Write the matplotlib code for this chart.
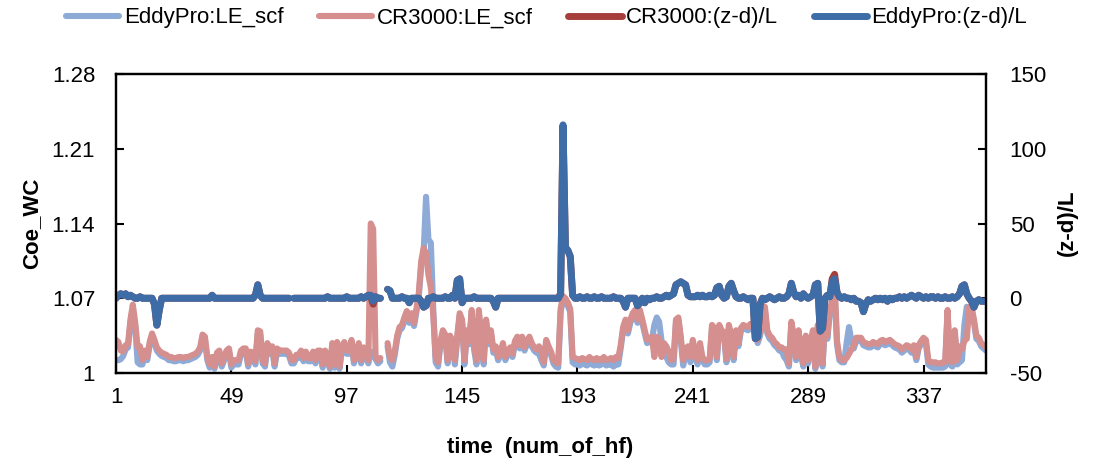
import numpy as np
import matplotlib
matplotlib.use("Agg")
import matplotlib.pyplot as plt
from matplotlib.ticker import FixedLocator

nan = np.nan

# LE_scf correction factors (left axis)
le_scf_eddypro = [
    1.012, 1.012, 1.013, 1.016, 1.022, 1.024, 1.046, 1.060, 1.043, 1.010,
    1.008, 1.008, 1.017, 1.012, 1.026, 1.034, 1.028, 1.021, 1.018, 1.016,
    1.015, 1.014, 1.012, 1.012, 1.011, 1.011, 1.012, 1.012, 1.011, 1.012,
    1.012, 1.013, 1.014, 1.015, 1.017, 1.021, 1.033, 1.031, 1.012, 1.005,
    1.012, 1.004, 1.016, 1.018, 1.006, 1.012, 1.018, 1.020, 1.005, 1.009,
    1.008, 1.008, 1.018, 1.020, 1.020, 1.006, 1.017, 1.016, 1.008, 1.037,
    1.036, 1.009, 1.006, 1.025, 1.018, 1.022, 1.006, 1.020, 1.018, 1.018,
    1.018, 1.018, 1.016, 1.009, 1.009, 1.014, 1.014, 1.018, 1.011, 1.017,
    1.011, 1.011, 1.017, 1.009, 1.018, 1.018, 1.005, 1.018, 1.011, 1.004,
    1.025, 1.005, 1.026, 1.004, 1.022, 1.026, 1.018, 1.018, 1.028, 1.009,
    1.017, 1.025, 1.009, 1.021, 1.016, 1.009, 1.020, 1.018, 1.013, 1.009,
    1.011, nan, nan, 1.025, 1.010, 1.006, 1.017, 1.032, 1.040, 1.042,
    1.049, 1.055, 1.047, 1.053, 1.044, 1.057, 1.072, 1.100, 1.112, 1.165,
    1.125, 1.122, 1.060, 1.010, 1.006, 1.027, 1.037, 1.033, 1.009, 1.032,
    1.027, 1.008, 1.032, 1.053, 1.047, 1.008, 1.037, 1.027, 1.056, 1.022,
    1.008, 1.056, 1.027, 1.008, 1.047, 1.027, 1.037, 1.019, 1.022, 1.012,
    1.017, 1.025, 1.012, 1.017, 1.021, 1.015, 1.027, 1.031, 1.023, 1.031,
    1.021, 1.027, 1.031, 1.025, 1.021, 1.019, 1.018, 1.012, 1.007, 1.028,
    1.022, 1.017, 1.009, 1.006, 1.005, 1.057, 1.069, 1.067, 1.063, 1.057,
    1.010, 1.008, 1.008, 1.007, 1.009, 1.008, 1.007, 1.010, 1.008, 1.007,
    1.009, 1.007, 1.008, 1.010, 1.007, 1.008, 1.008, 1.006, 1.008, 1.008,
    1.023, 1.040, 1.047, 1.037, 1.047, 1.053, 1.056, 1.047, 1.056, 1.047,
    1.037, 1.028, 1.029, 1.031, 1.045, 1.052, 1.048, 1.030, 1.025, 1.015,
    1.010, 1.008, 1.008, 1.047, 1.049, 1.031, 1.007, 1.019, 1.022, 1.010,
    1.028, 1.015, 1.008, 1.025, 1.012, 1.008, 1.008, 1.010, 1.042, 1.039,
    1.012, 1.042, 1.037, 1.035, 1.010, 1.042, 1.033, 1.012, 1.037, 1.025,
    1.039, 1.042, 1.041, 1.040, 1.043, 1.041, 1.037, 1.028, 1.035, 1.047,
    1.059, 1.037, 1.032, 1.030, 1.026, 1.024, 1.021, 1.021, 1.015, 1.012,
    1.006, 1.045, 1.032, 1.012, 1.037, 1.017, 1.006, 1.032, 1.009, 1.027,
    1.037, 1.004, 1.042, 1.027, 1.006, 1.047, 1.032, 1.056, 1.065, 1.075,
    1.027, 1.012, 1.010, 1.010, 1.028, 1.043, 1.030, 1.023, 1.030, 1.030,
    1.030, 1.026, 1.025, 1.024, 1.024, 1.026, 1.025, 1.024, 1.027, 1.028,
    1.026, 1.027, 1.028, 1.026, 1.024, 1.023, 1.022, 1.019, 1.021, 1.023,
    1.022, 1.019, 1.023, 1.012, 1.023, 1.027, 1.030, 1.028, 1.008, 1.006,
    1.005, 1.005, 1.005, 1.005, 1.005, 1.006, 1.056, 1.008, 1.006, 1.037,
    1.008, 1.010, 1.012, 1.045, 1.062, 1.059, 1.059, 1.047, 1.032, 1.030,
    1.025, 1.023, 1.021,
]

le_scf_cr3000 = [
    1.031, 1.029, 1.021, 1.020, 1.026, 1.027, 1.050, 1.064, 1.047, 1.024,
    1.025, 1.012, 1.021, 1.015, 1.029, 1.037, 1.031, 1.024, 1.021, 1.019,
    1.018, 1.017, 1.015, 1.015, 1.014, 1.014, 1.015, 1.015, 1.014, 1.015,
    1.015, 1.016, 1.017, 1.018, 1.020, 1.024, 1.036, 1.034, 1.015, 1.008,
    1.015, 1.006, 1.019, 1.021, 1.009, 1.015, 1.021, 1.023, 1.008, 1.012,
    1.012, 1.012, 1.021, 1.023, 1.023, 1.009, 1.020, 1.019, 1.011, 1.040,
    1.039, 1.012, 1.009, 1.028, 1.021, 1.025, 1.009, 1.023, 1.021, 1.021,
    1.021, 1.021, 1.019, 1.012, 1.012, 1.017, 1.017, 1.021, 1.014, 1.020,
    1.014, 1.014, 1.020, 1.012, 1.021, 1.021, 1.008, 1.021, 1.014, 1.006,
    1.028, 1.008, 1.029, 1.006, 1.025, 1.029, 1.021, 1.021, 1.031, 1.012,
    1.020, 1.028, 1.012, 1.024, 1.019, 1.012, 1.140, 1.135, 1.016, 1.012,
    1.014, nan, nan, 1.028, 1.015, 1.012, 1.020, 1.035, 1.043, 1.045,
    1.052, 1.058, 1.050, 1.056, 1.047, 1.060, 1.075, 1.105, 1.117, 1.112,
    1.092, 1.080, 1.055, 1.015, 1.010, 1.030, 1.040, 1.036, 1.012, 1.035,
    1.030, 1.012, 1.035, 1.056, 1.050, 1.012, 1.040, 1.030, 1.059, 1.025,
    1.012, 1.059, 1.030, 1.012, 1.050, 1.030, 1.040, 1.022, 1.025, 1.015,
    1.020, 1.028, 1.015, 1.020, 1.024, 1.018, 1.030, 1.034, 1.026, 1.034,
    1.024, 1.030, 1.034, 1.028, 1.024, 1.022, 1.025, 1.020, 1.010, 1.031,
    1.025, 1.020, 1.012, 1.010, 1.009, 1.060, 1.072, 1.070, 1.066, 1.060,
    1.015, 1.014, 1.013, 1.012, 1.014, 1.013, 1.012, 1.015, 1.013, 1.012,
    1.014, 1.012, 1.013, 1.015, 1.012, 1.013, 1.014, 1.012, 1.015, 1.014,
    1.026, 1.043, 1.050, 1.040, 1.050, 1.056, 1.059, 1.050, 1.059, 1.050,
    1.040, 1.031, 1.032, 1.034, 1.015, 1.034, 1.032, 1.015, 1.028, 1.025,
    1.020, 1.012, 1.013, 1.050, 1.052, 1.034, 1.012, 1.022, 1.025, 1.015,
    1.031, 1.018, 1.012, 1.028, 1.015, 1.012, 1.012, 1.013, 1.045, 1.042,
    1.015, 1.045, 1.040, 1.038, 1.013, 1.045, 1.036, 1.015, 1.040, 1.028,
    1.042, 1.045, 1.044, 1.043, 1.046, 1.044, 1.040, 1.031, 1.038, 1.050,
    1.062, 1.040, 1.035, 1.033, 1.029, 1.027, 1.024, 1.024, 1.022, 1.022,
    1.009, 1.048, 1.035, 1.015, 1.040, 1.020, 1.009, 1.035, 1.012, 1.030,
    1.040, 1.006, 1.045, 1.030, 1.009, 1.050, 1.035, 1.059, 1.068, 1.085,
    1.030, 1.015, 1.012, 1.012, 1.014, 1.018, 1.022, 1.026, 1.033, 1.033,
    1.033, 1.029, 1.028, 1.027, 1.027, 1.029, 1.028, 1.027, 1.030, 1.031,
    1.029, 1.030, 1.031, 1.029, 1.027, 1.026, 1.025, 1.022, 1.024, 1.026,
    1.025, 1.022, 1.026, 1.015, 1.026, 1.030, 1.033, 1.031, 1.012, 1.010,
    1.010, 1.010, 1.009, 1.009, 1.010, 1.010, 1.059, 1.012, 1.010, 1.040,
    1.012, 1.025, 1.022, 1.030, 1.032, 1.062, 1.062, 1.050, 1.035, 1.033,
    1.028, 1.026, 1.024,
]

# stability parameter (z-d)/L (right axis)
zl_cr3000 = [
    0, 2, 3, 2, 3, 1, 2, 1, 0, 0,
    1, 0, 0, 0, 0, 0, -4, -18, -8, 0,
    0, 0, 0, 0, 0, 0, 0, 0, 0, 0,
    0, 0, 0, 0, 0, 0, 0, 0, 0, 0,
    2, 0, 0, 0, 0, 0, 0, 0, 0, 0,
    0, 0, 0, 0, 0, 0, 0, 0, 2, 9,
    2, 0, 0, 0, 0, 0, 0, 0, 0, 0,
    0, 0, 0, nan, 0, 0, 0, 0, 0, 0,
    0, 0, 0, 0, 0, 0, 0, 0, 1, 0,
    0, 0, 0, 0, 0, 0, 1, 0, 0, 0,
    0, 0, 1, 0, 1, 2, 1, -4, 1, 0,
    0, nan, nan, 6, 5, 0, 0, 0, 0, 1,
    0, 0, -3, 0, 0, 0, 0, -2, -6, -5,
    0, 0, 1, 0, 0, 0, 0, 1, 0, 0,
    2, 0, 12, 13, -3, 0, 0, 0, 0, 1,
    0, 0, 0, 0, 0, 0, 0, -2, -6, 0,
    0, 0, 0, 0, 0, 0, 0, 0, 0, 0,
    0, 0, 0, 0, 0, 0, 0, 0, 0, 0,
    0, 0, 0, 0, 0, 3, 115, 34, 32, 28,
    2, 0, 0, 1, 0, 0, 1, 0, 0, 1,
    0, 0, 1, 0, 0, 0, 0, 1, 0, 0,
    0, -2, -6, 0, 0, 0, 0, -5, -3, 0,
    -3, 0, -1, 0, 0, 1, 0, 0, 1, 2,
    1, 2, 3, 9, 10, 11, 10, 9, 2, 1,
    1, 1, 2, 1, 2, 1, 1, 2, 1, 2,
    7, 8, 2, 0, 1, 8, 10, 5, 1, 0,
    0, 1, 0, -1, 0, 0, -27, -26, -4, 0,
    -1, 0, 1, 0, -1, 0, 1, 0, 0, 1,
    3, 10, 4, 1, 2, 0, 3, 1, 0, 1,
    2, 9, 10, -22, -20, 0, 2, 1, 13, 16,
    4, 1, 0, 1, 0, 0, -1, 0, -2, -2,
    -3, -9, -4, -1, -2, -1, 0, -1, 0, -1,
    0, -2, 0, -1, 0, 0, 1, 0, 1, 0,
    1, 2, 1, 0, 2, 1, 0, 1, 0, 1,
    1, 0, 1, 0, 0, 1, 0, 0, 1, 0,
    1, 3, 8, 9, 3, 0, -2, -6, -2, -1,
    -2, -2, -2,
]

zl_eddypro = [
    0, 2, 3, 2, 3, 1, 2, 1, 0, 0,
    1, 0, 0, 0, 0, 0, -4, -18, -8, 0,
    0, 0, 0, 0, 0, 0, 0, 0, 0, 0,
    0, 0, 0, 0, 0, 0, 0, 0, 0, 0,
    2, 0, 0, 0, 0, 0, 0, 0, 0, 0,
    0, 0, 0, 0, 0, 0, 0, 0, 2, 9,
    2, 0, 0, 0, 0, 0, 0, 0, 0, 0,
    0, 0, 0, nan, 0, 0, 0, 0, 0, 0,
    0, 0, 0, 0, 0, 0, 0, 0, 1, 0,
    0, 0, 0, 0, 0, 0, 1, 0, 0, 0,
    0, 0, 1, 0, 1, 2, 2, -2, 1, 0,
    0, nan, nan, 6, 5, 0, 0, 0, 0, 1,
    0, 0, -3, 0, 0, 0, 0, -2, -6, -5,
    0, 0, 1, 0, 0, 0, 0, 1, 0, 0,
    2, 0, 12, 13, -3, 0, 0, 0, 0, 1,
    0, 0, 0, 0, 0, 0, 0, -2, -6, 0,
    0, 0, 0, 0, 0, 0, 0, 0, 0, 0,
    0, 0, 0, 0, 0, 0, 0, 0, 0, 0,
    0, 0, 0, 0, 0, 3, 116, 34, 32, 28,
    2, 0, 0, 1, 0, 0, 1, 0, 0, 1,
    0, 0, 1, 0, 0, 0, 0, 1, 0, 0,
    0, -2, -6, 0, 0, 0, 0, -5, -3, 0,
    -3, 0, -1, 0, 0, 1, 0, 0, 1, 2,
    1, 2, 3, 9, 10, 11, 10, 9, 2, 1,
    1, 1, 2, 1, 2, 1, 1, 2, 1, 2,
    7, 8, 2, 0, 1, 8, 10, 5, 1, 0,
    0, 1, 0, -1, 0, 0, -27, -26, -4, 0,
    -1, 0, 1, 0, -1, 0, 1, 0, 0, 1,
    3, 10, 4, 1, 2, 0, 3, 1, 0, 1,
    2, 9, 10, -22, -20, 0, 2, 1, 11, 13,
    4, 1, 0, 1, 0, 0, -1, 0, -2, -2,
    -3, -9, -4, -1, -2, -1, 0, -1, 0, -1,
    0, -2, 0, -1, 0, 0, 1, 0, 1, 0,
    1, 2, 1, 0, 2, 1, 0, 1, 0, 1,
    1, 0, 1, 0, 0, 1, 0, 0, 1, 0,
    1, 3, 8, 9, 3, 0, -2, -6, -2, -1,
    -2, -2, -2,
]

series_names = ['EddyPro:LE_scf', 'CR3000:LE_scf', 'CR3000:(z-d)/L', 'EddyPro:(z-d)/L']
x_ticks = [1, 49, 97, 145, 193, 241, 289, 337]
y_left_ticks = [1, 1.07, 1.14, 1.21, 1.28]
y_left_labels = ['1', '1.07', '1.14', '1.21', '1.28']
y_right_ticks = [-50, 0, 50, 100, 150]

plt.rcParams['font.family'] = ['Liberation Sans', 'DejaVu Sans']
plt.rcParams['axes.unicode_minus'] = False
fs = 16

fig = plt.figure(figsize=(10.95, 4.65), dpi=100)
ax = fig.add_axes([116/1095, 1 - 373/465, 870/1095, 299/465])
t = np.arange(1, len(le_scf_cr3000) + 1)

l1, = ax.plot(t, le_scf_eddypro, color='#8EAAD6', lw=4.4,
              solid_capstyle='round', solid_joinstyle='round')
l2, = ax.plot(t, le_scf_cr3000, color='#D48F8E', lw=4.4,
              solid_capstyle='round', solid_joinstyle='round')
ax.set_xlim(1, len(t))
ax.set_ylim(1, 1.28)
ax.xaxis.set_major_locator(FixedLocator(x_ticks))
ax.set_xticklabels([str(v) for v in x_ticks])
ax.set_yticks(y_left_ticks)
ax.set_yticklabels(y_left_labels)

ax2 = ax.twinx()
l3, = ax2.plot(t, zl_cr3000, color='#A63F3C', lw=5,
               solid_capstyle='round', solid_joinstyle='round')
l4, = ax2.plot(t, zl_eddypro, color='#3E6CA7', lw=5,
               solid_capstyle='round', solid_joinstyle='round')
ax2.set_ylim(-50, 150)
ax2.set_yticks(y_right_ticks)

for a in (ax, ax2):
    for sp in a.spines.values():
        sp.set_linewidth(1.6)
        sp.set_color('black')
ax.tick_params(axis='x', direction='in', length=6, width=1.5, labelsize=fs, pad=10)
ax.tick_params(axis='y', direction='in', length=6, width=1.5, labelsize=fs, pad=15)
ax2.tick_params(axis='y', direction='in', length=6, width=1.5, labelsize=fs, pad=17)

fig.text(32/1095, 1 - 223/465, 'Coe_WC', rotation=90, ha='center', va='center',
         fontsize=fs, fontweight='bold')
fig.text(1067/1095, 1 - 223/465, '(z-d)/L', rotation=90, ha='center', va='center',
         fontsize=fs, fontweight='bold')
fig.text(540/1095, 1 - 447/465, 'time  (num_of_hf)', ha='center', va='center',
         fontsize=fs, fontweight='bold')

fig.legend([l1, l2, l3, l4], series_names, loc='center', bbox_to_anchor=(0.499, 1 - 18/465),
           ncol=4, frameon=False, fontsize=fs, handlelength=2.4, handletextpad=0.2,
           columnspacing=1.6)

fig.savefig('out.png', dpi=100)
